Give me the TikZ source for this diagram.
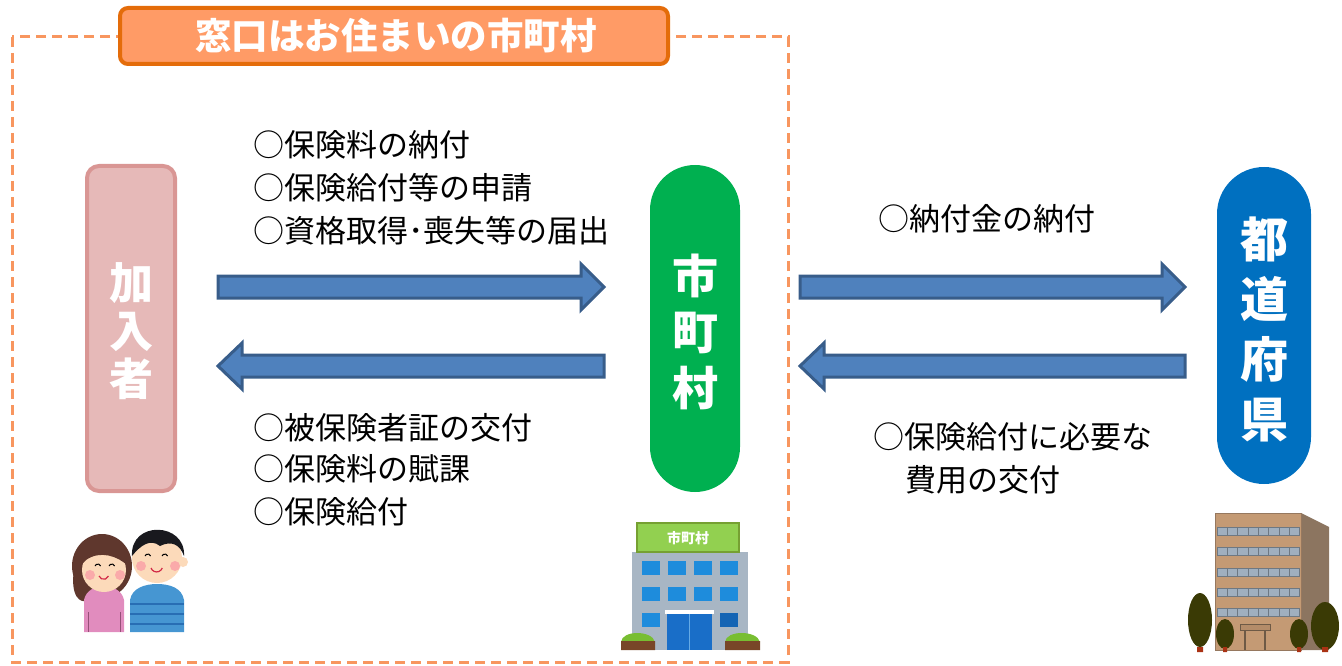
\documentclass[tikz,border=0pt]{standalone}
\usepackage{fontspec}
\setmainfont{Noto Sans CJK JP}

\tikzset{
  blockarrow/.style={draw={rgb,255:red,56;green,93;blue,138}, line width=3pt, line join=miter,
    fill={rgb,255:red,79;green,129;blue,189}},
  item/.style={anchor=west, inner sep=0pt, font=\fontsize{31}{31}\selectfont},
  pillar/.style={text=white, align=center, inner sep=0pt},
  skin/.style={fill={rgb,255:red,252;green,218;blue,186}},
  window/.style={fill={rgb,255:red,30;green,140;blue,220}},
}

\begin{document}
\begin{tikzpicture}[x=1pt,y=1pt,yscale=-1,xscale=1]
\useasboundingbox (0,0) rectangle (1342,666);

% dashed frame and its title
\draw [draw={rgb,255:red,248;green,150;blue,95}, line width=3pt, dash pattern=on 10pt off 6pt]
  (12,37) rectangle (788,662);
\draw [draw={rgb,255:red,228;green,108;blue,10}, fill={rgb,255:red,255;green,155;blue,102},
  line width=4pt, rounded corners=8pt] (120,8) rectangle (668,64);
\node (madoguchi) at (396,36) [text=white, font=\bfseries\fontsize{36.5}{36.5}\selectfont] {窓口はお住まいの市町村};

% three columns
\draw [draw={rgb,255:red,217;green,150;blue,148}, fill={rgb,255:red,230;green,185;blue,184},
  line width=4pt, rounded corners=12pt] (87,166) rectangle (175,491);
\node (kanyusha) at (131,331) [pillar, font=\bfseries\fontsize{44}{48}\selectfont] {加\\入\\者};

\draw [fill={rgb,255:red,0;green,176;blue,80}, draw=none, rounded corners=45pt] (650,165) rectangle (740,492);
\node (shichoson) at (695,332) [pillar, font=\bfseries\fontsize{46}{56}\selectfont] {市\\町\\村};

\draw [fill={rgb,255:red,0;green,112;blue,192}, draw=none, rounded corners=47pt] (1217,167) rectangle (1311,484);
\node (todofuken) at (1264,329) [pillar, font=\bfseries\fontsize{48}{60}\selectfont] {都\\道\\府\\県};

% arrows
\draw [blockarrow] (218,276) -- (581,276) -- (581,264) -- (604,287) -- (581,310) -- (581,298) -- (218,298) -- cycle;
\draw [blockarrow] (604,355) -- (242,355) -- (242,343) -- (218,366) -- (242,389) -- (242,377) -- (604,377) -- cycle;
\draw [blockarrow] (800,276) -- (1162,276) -- (1162,264) -- (1185,287) -- (1162,310) -- (1162,298) -- (800,298) -- cycle;
\draw [blockarrow] (1185,355) -- (824,355) -- (824,343) -- (800,366) -- (824,389) -- (824,377) -- (1185,377) -- cycle;

% labels
\node (noufu) at (253,145) [item] {○保険料の納付};
\node (shinsei) at (253,188) [item] {○保険給付等の申請};
\node (todokede) at (253,231) [item] {○資格取得･喪失等の届出};
\node (kofu) at (253,428) [item] {○被保険者証の交付};
\node (fuka) at (253,469) [item] {○保険料の賦課};
\node (kyufu) at (253,512) [item] {○保険給付};
\node (noufukin) at (878,219) [item] {○納付金の納付};
\node (hiyou1) at (873,437) [item] {○保険給付に必要な};
\node (hiyou2) at (905,480) [item] {費用の交付};

% couple
\fill [fill={rgb,255:red,95;green,55;blue,45}] (102,566) ellipse [x radius=30, y radius=32];
\fill [fill={rgb,255:red,95;green,55;blue,45}] (74,570) .. controls (70,595) and (80,605) .. (88,600) -- (90,580) -- cycle;
\fill [fill={rgb,255:red,225;green,140;blue,190}] (84,632) -- (84,600) .. controls (86,590) and (96,586) .. (103,586)
  .. controls (112,586) and (122,590) .. (124,600) -- (124,632) -- cycle;
\draw [draw={rgb,255:red,150;green,80;blue,120}] (88,612) -- (88,632) (120,612) -- (120,632);
\fill [skin] (104,570) circle [radius=22];
\fill [fill={rgb,255:red,95;green,55;blue,45}] (80,566) .. controls (80,540) and (128,538) .. (128,566)
  .. controls (118,556) and (100,550) .. (86,560) -- cycle;
\fill [fill={rgb,255:red,250;green,170;blue,170}] (90,575) circle [radius=5] (120,575) circle [radius=5];
\draw [line width=1pt] (95,566) arc [start angle=200, end angle=340, radius=3] (109,566) arc [start angle=200, end angle=340, radius=3];
\draw [draw={rgb,255:red,210;green,40;blue,70}, line width=1.2pt] (99,576) arc [start angle=160, end angle=20, radius=5];
\fill [fill={rgb,255:red,70;green,150;blue,210}] (130,632) -- (130,600) .. controls (132,588) and (145,584) .. (157,584)
  .. controls (170,584) and (182,588) .. (184,600) -- (184,632) -- cycle;
\draw [draw={rgb,255:red,40;green,110;blue,180}, line width=2pt] (130,604) -- (184,604) (130,614) -- (184,614) (130,624) -- (184,624);
\fill [skin] (157,558) circle [radius=25] (183,562) circle [radius=5];
\fill [fill={rgb,255:red,25;green,25;blue,30}] (132,556) .. controls (130,520) and (186,522) .. (184,556)
  .. controls (180,545) and (172,540) .. (160,546) .. controls (150,538) and (140,546) .. (132,556) -- cycle;
\fill [fill={rgb,255:red,250;green,170;blue,170}] (141,566) circle [radius=5] (175,566) circle [radius=5];
\draw [line width=1pt] (145,556) arc [start angle=200, end angle=340, radius=3] (162,556) arc [start angle=200, end angle=340, radius=3];
\draw [draw={rgb,255:red,210;green,40;blue,70}, line width=1.2pt] (151,568) arc [start angle=160, end angle=20, radius=6];

% town hall
\fill [fill={rgb,255:red,168;green,182;blue,196}] (632,552) rectangle (748,650);
\draw [fill={rgb,255:red,146;green,208;blue,80}, draw={rgb,255:red,118;green,160;blue,50}, line width=2pt]
  (637,523) rectangle (739,552);
\node (kanban) at (688,538) [text=white, font=\bfseries\fontsize{14}{14}\selectfont] {市町村};
\foreach \xx in {642,668,694,720}
  \foreach \yy in {561,587} \fill [window] (\xx,\yy) rectangle +(18,14);
\fill [window] (642,613) rectangle +(18,14);
\fill [fill={rgb,255:red,20;green,100;blue,180}] (720,613) rectangle +(18,14);
\fill [white] (665,610) rectangle (714,614);
\fill [fill={rgb,255:red,25;green,110;blue,200}] (667,614) rectangle (712,650);
\draw [draw={rgb,255:red,100;green,170;blue,230}] (689.5,614) -- (689.5,650);
\fill [fill={rgb,255:red,120;green,190;blue,50}] (621,642) .. controls (622,630) and (652,630) .. (655,642) -- cycle;
\fill [fill={rgb,255:red,120;green,190;blue,50}] (725,642) .. controls (726,630) and (757,630) .. (760,642) -- cycle;
\fill [fill={rgb,255:red,120;green,70;blue,40}] (621,641) rectangle (655,650) (725,641) rectangle (760,650);

% prefectural office
\fill [fill={rgb,255:red,140;green,117;blue,96}] (1301,513) -- (1329,527) -- (1329,650) -- (1301,650) -- cycle;
\draw [fill={rgb,255:red,196;green,154;blue,116}, draw={rgb,255:red,150;green,120;blue,95}] (1215,513) rectangle (1301,650);
\foreach \yy in {527,547,568,588,608}
  \foreach \xx in {0,...,7}
    \draw [fill={rgb,255:red,160;green,175;blue,190}, draw={rgb,255:red,110;green,120;blue,130}]
      (1217+\xx*10.3,\yy) rectangle +(10.3,8);
\draw [fill={rgb,255:red,180;green,140;blue,105}, draw={rgb,255:red,110;green,90;blue,70}] (1240,624) rectangle (1270,630);
\draw [draw={rgb,255:red,110;green,90;blue,70}, line width=1.5pt] (1245,630) -- (1245,650) (1265,630) -- (1265,650);
\foreach \tx/\ty/\rx/\ry in {1200/620/12/27, 1225/634/9/15, 1299/634/9/15, 1325/626/14/24}
  \fill [fill={rgb,255:red,58;green,58;blue,5}] (\tx,\ty) ellipse [x radius=\rx, y radius=\ry];
\fill [fill={rgb,255:red,170;green,50;blue,20}] (1197,647) rectangle (1203,652) (1223,647) rectangle (1227,652)
  (1297,647) rectangle (1301,652) (1322,647) rectangle (1328,652);

\end{tikzpicture}
\end{document}
